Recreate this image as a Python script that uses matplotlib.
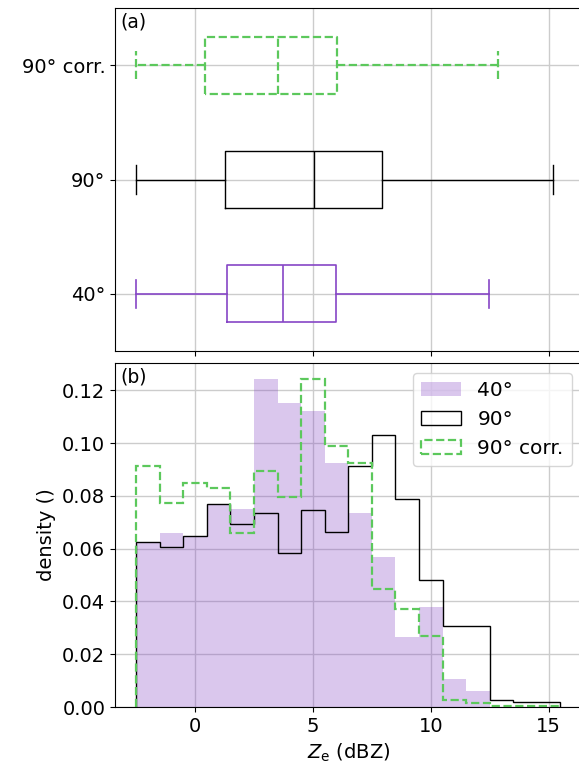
import numpy as np
import matplotlib
matplotlib.use("Agg")
import matplotlib.pyplot as plt

# histogram bins (dBZ) and densities
edges = np.arange(-2.5, 16.5, 1.0)
dens_40 = [0.0624, 0.0660, 0.0645, 0.0768, 0.0752, 0.1242, 0.1152, 0.1124, 0.0925,
           0.0737, 0.0569, 0.0264, 0.0380, 0.0108, 0.0060, 0.0, 0.0, 0.0]
dens_90 = [0.0625, 0.0607, 0.0648, 0.0771, 0.0695, 0.0735, 0.0582, 0.0746, 0.0663,
           0.0912, 0.1031, 0.0787, 0.0483, 0.0307, 0.0307, 0.0028, 0.0019, 0.0019]
dens_corr = [0.0914, 0.0772, 0.0850, 0.0832, 0.0660, 0.0895, 0.0796, 0.1242, 0.0991,
             0.0925, 0.0447, 0.0371, 0.0269, 0.0027, 0.0017, 0.0005, 0.0005, 0.0005]

# box plot summaries: whisker low, q1, median, q3, whisker high
box_labels = ["40°", "90°", "90° corr."]
box_stats = [
    [-2.5, 1.35, 3.73, 5.99, 12.47],
    [-2.5, 1.28, 5.03, 7.92, 15.18],
    [-2.5, 0.40, 3.52, 6.04, 12.84],
]

purple = "#8646c6"
green = "#5cc85c"
colors = [purple, "black", green]
styles = ["-", "-", "--"]
widths = [1.2, 1.0, 1.6]

plt.rcParams["font.size"] = 14

fig = plt.figure(figsize=(5.79, 7.65), dpi=100)
ax1 = fig.add_axes([0.1986, 0.5412, 0.806, 0.4483])
ax2 = fig.add_axes([0.1986, 0.0758, 0.806, 0.4497], sharex=ax1)

# (a) box plots
stats = []
for lab, s in zip(box_labels, box_stats):
    stats.append(dict(label=lab, whislo=s[0], q1=s[1], med=s[2], q3=s[3], whishi=s[4], fliers=[]))

for i, st in enumerate(stats):
    lp = dict(color=colors[i], linestyle=styles[i], linewidth=widths[i])
    ax1.bxp([st], positions=[i + 1], orientation="horizontal", widths=0.5,
            boxprops=lp, whiskerprops=lp, capprops=lp, medianprops=lp,
            showfliers=False)

ax1.set_ylim(0.5, 3.5)
ax1.set_yticks([1, 2, 3])
ax1.set_yticklabels(box_labels)
ax1.grid(True, color="#cccccc", linewidth=1.0)
ax1.set_axisbelow(True)
ax1.tick_params(labelbottom=False)
ax1.text(0.012, 0.988, "(a)", transform=ax1.transAxes, va="top", ha="left", fontsize=13.5)

# (b) histograms
centers = edges[:-1] + 0.5
ax2.hist(centers, bins=edges, weights=dens_40, histtype="stepfilled",
         color=purple, alpha=0.3, linewidth=0, label="40°")
ax2.hist(centers, bins=edges, weights=dens_90, histtype="step",
         color="black", linewidth=1.0, label="90°")
ax2.hist(centers, bins=edges, weights=dens_corr, histtype="step",
         color=green, linestyle="--", linewidth=1.6, label="90° corr.")

ax2.grid(True, color="#cccccc", linewidth=1.0)
ax2.set_axisbelow(True)
ax2.set_xticks([0, 5, 10, 15])
ax2.set_yticks(np.arange(0, 0.13, 0.02))
ax2.set_xlabel(r"$Z_\mathrm{e}$ (dBZ)")
ax2.set_ylabel("density ()")
ax2.legend(loc="upper right", fontsize=14.5)
ax2.text(0.012, 0.988, "(b)", transform=ax2.transAxes, va="top", ha="left", fontsize=13.5)

fig.savefig("out.png", dpi=100)
